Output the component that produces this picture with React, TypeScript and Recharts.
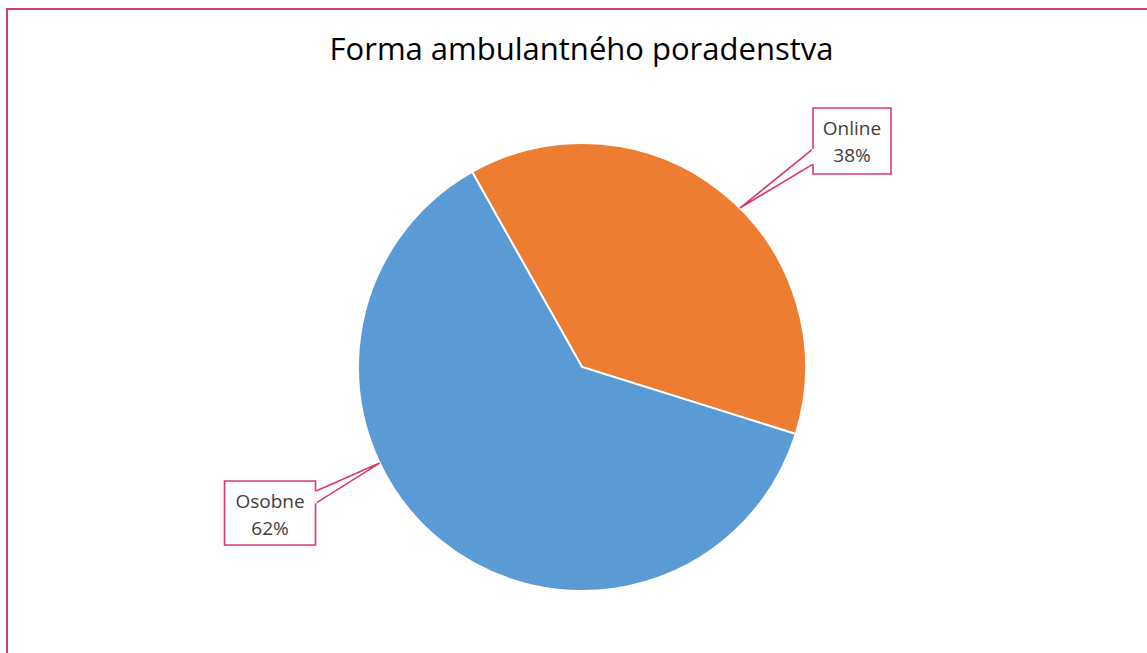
import React from "react";
import { PieChart, Pie, Cell } from "recharts";

const categories = ["Online", "Osobne"];
const values = [38, 62];
const colors = ["#ED7D31", "#5B9BD5"];
const title = "Forma ambulantného poradenstva";

// callout layout (per slice): leader tip angle (deg), box centre offset from pie centre, box size
const calloutLayout = [
  { tipAngle: 45.2, dx: 270, dy: -226, w: 78, h: 66 },
  { tipAngle: 205.4, dx: -312, dy: 146, w: 91, h: 64 },
];

const data = categories.map((name, i) => ({ name, value: values[i] }));
const total = values.reduce((a, b) => a + b, 0);
const PINK = "#D93A6E";
const FONT = "'Open Sans', sans-serif";

const renderLabel = (props: any) => {
  const { cx, cy, outerRadius, index, name, value } = props;
  const L = calloutLayout[index];
  const rad = (L.tipAngle * Math.PI) / 180;
  const tx = cx + outerRadius * Math.cos(rad);
  const ty = cy - outerRadius * Math.sin(rad);
  const bx = cx + L.dx - L.w / 2;
  const by = cy + L.dy - L.h / 2;
  const right = L.dx < 0;
  const ex = right ? bx + L.w : bx;
  const y1 = right ? by + L.h * 0.16 : by + L.h * 0.62;
  const y2 = right ? by + L.h * 0.35 : by + L.h * 0.85;
  const pct = Math.round((value / total) * 100);
  const d = `M${bx},${by} L${bx + L.w},${by} L${bx + L.w},${by + L.h} L${bx},${by + L.h} Z`;
  const pointer = `M${ex},${y1} L${tx},${ty} L${ex},${y2}`;
  return (
    <g>
      <path d={pointer} fill="none" stroke={PINK} strokeWidth={1.6} />
      <path d={d} fill="#fff" stroke={PINK} strokeWidth={1.6} />
      <line x1={ex} y1={y1} x2={ex} y2={y2} stroke="#fff" strokeWidth={2.5} />
      <text x={bx + L.w / 2} y={by + 27} textAnchor="middle" fontFamily={FONT} fontSize={19} fill="#404040">
        {name}
      </text>
      <text x={bx + L.w / 2} y={by + 54} textAnchor="middle" fontFamily={FONT} fontSize={19} fill="#404040">
        {pct}%
      </text>
    </g>
  );
};

export default function App() {
  return (
    <div style={{ position: "absolute", left: 0, top: 0, width: 1147, height: 653, background: "#fff", overflow: "hidden" }}>
      <div
        style={{
          position: "absolute",
          left: 6,
          top: 8,
          width: 1160,
          height: 700,
          border: `2.5px solid ${PINK}`,
          boxSizing: "border-box",
        }}
      />
      <div
        style={{
          position: "absolute",
          left: 0,
          top: 28,
          width: 1163,
          textAlign: "center",
          fontFamily: FONT,
          fontSize: 31,
          lineHeight: "40px",
          color: "#000",
        }}
      >
        {title}
      </div>
      <div style={{ position: "absolute", left: 0, top: 0 }}>
        <PieChart width={1147} height={653}>
          <Pie
            data={data}
            dataKey="value"
            nameKey="name"
            cx={577}
            cy={362}
            outerRadius={224}
            startAngle={119.4}
            endAngle={-240.6}
            stroke="#fff"
            strokeWidth={2}
            label={renderLabel}
            labelLine={false}
            isAnimationActive={false}
          >
            {data.map((d, i) => (
              <Cell key={d.name} fill={colors[i]} />
            ))}
          </Pie>
        </PieChart>
      </div>
    </div>
  );
}
